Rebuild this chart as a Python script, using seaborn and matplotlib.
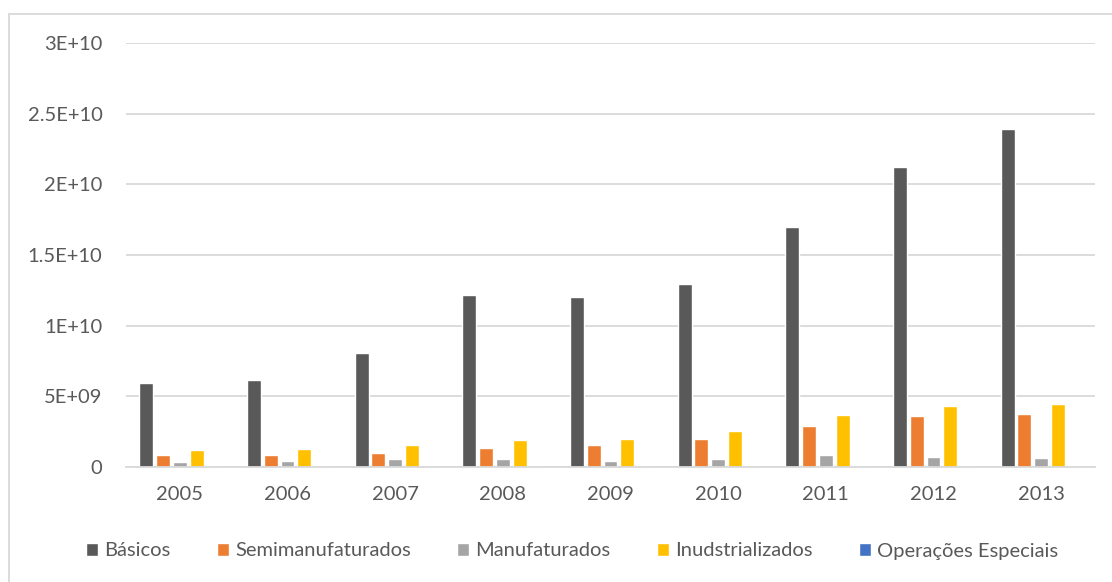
import matplotlib
matplotlib.use("Agg")
import matplotlib.pyplot as plt
import seaborn as sns
import pandas as pd
from matplotlib.patches import Rectangle
from matplotlib.ticker import FixedLocator, FixedFormatter

years = ["2005", "2006", "2007", "2008", "2009", "2010", "2011", "2012", "2013"]
basicos = [5.95e9, 6.15e9, 8.06e9, 12.18e9, 12.03e9, 12.96e9, 17.0e9, 21.26e9, 23.88e9]
semimanufaturados = [0.84e9, 0.84e9, 0.98e9, 1.33e9, 1.55e9, 1.98e9, 2.9e9, 3.62e9, 3.76e9]
manufaturados = [0.34e9, 0.40e9, 0.55e9, 0.55e9, 0.40e9, 0.55e9, 0.84e9, 0.69e9, 0.62e9]
industrializados = [1.19e9, 1.26e9, 1.55e9, 1.90e9, 1.98e9, 2.55e9, 3.69e9, 4.33e9, 4.48e9]
operacoes = [0.04e9, 0.04e9, 0.04e9, 0.05e9, 0.04e9, 0.05e9, 0.06e9, 0.06e9, 0.06e9]

series_names = ["Básicos", "Semimanufaturados", "Manufaturados", "Inudstrializados", "Operações Especiais"]
colors = ["#595959", "#ED7D31", "#A5A5A5", "#FFC000", "#4472C4"]
ytick_values = [0, 5e9, 1e10, 1.5e10, 2e10, 2.5e10, 3e10]
ytick_labels = ["0", "5E+09", "1E+10", "1.5E+10", "2E+10", "2.5E+10", "3E+10"]

rows = []
for name, vals in zip(series_names, [basicos, semimanufaturados, manufaturados, industrializados, operacoes]):
    for y, v in zip(years, vals):
        rows.append({"Ano": y, "Série": name, "Valor": v})
df = pd.DataFrame(rows)

sns.set_theme(style="white")
plt.rcParams["font.family"] = ["Lato", "DejaVu Sans"]

fig = plt.figure(figsize=(11.12, 5.82), dpi=100)
ax = fig.add_axes([126 / 1112, 1 - 467 / 582, (1095 - 126) / 1112, (467 - 43) / 582])

sns.barplot(data=df, x="Ano", y="Valor", hue="Série", order=years, hue_order=series_names,
            palette=colors, width=0.78, gap=0.17, ax=ax, saturation=1, errorbar=None, legend=True)

ax.set_ylim(0, 3e10)
ax.set_xlim(-0.5, len(years) - 0.5)
ax.yaxis.set_major_locator(FixedLocator(ytick_values))
ax.yaxis.set_major_formatter(FixedFormatter(ytick_labels))
ax.grid(axis="y", color="#d9d9d9", linewidth=1.3)
ax.set_axisbelow(True)
for s in ["top", "right", "left"]:
    ax.spines[s].set_visible(False)
ax.spines["bottom"].set_color("#d9d9d9")
ax.spines["bottom"].set_linewidth(1.3)
ax.tick_params(axis="y", length=0, pad=17, labelsize=14.5, labelcolor="#595959")
ax.tick_params(axis="x", length=0, pad=14, labelsize=14.5, labelcolor="#595959")
ax.set_xlabel("")
ax.set_ylabel("")

handles, labels = ax.get_legend_handles_labels()
ax.get_legend().remove()
fig.legend(handles, labels, loc="center", bbox_to_anchor=(572 / 1112, 1 - 551 / 582), ncol=5,
           frameon=False, fontsize=14.5, labelcolor="#595959", handlelength=0.6, handleheight=0.6,
           handletextpad=0.3, columnspacing=2.3)

fig.patches.append(Rectangle((8.5 / 1112, -0.05), 1.1, 1.05 - 13.5 / 582, transform=fig.transFigure,
                             fill=False, edgecolor="#d9d9d9", linewidth=1.3))

fig.savefig("out.png", dpi=100)
